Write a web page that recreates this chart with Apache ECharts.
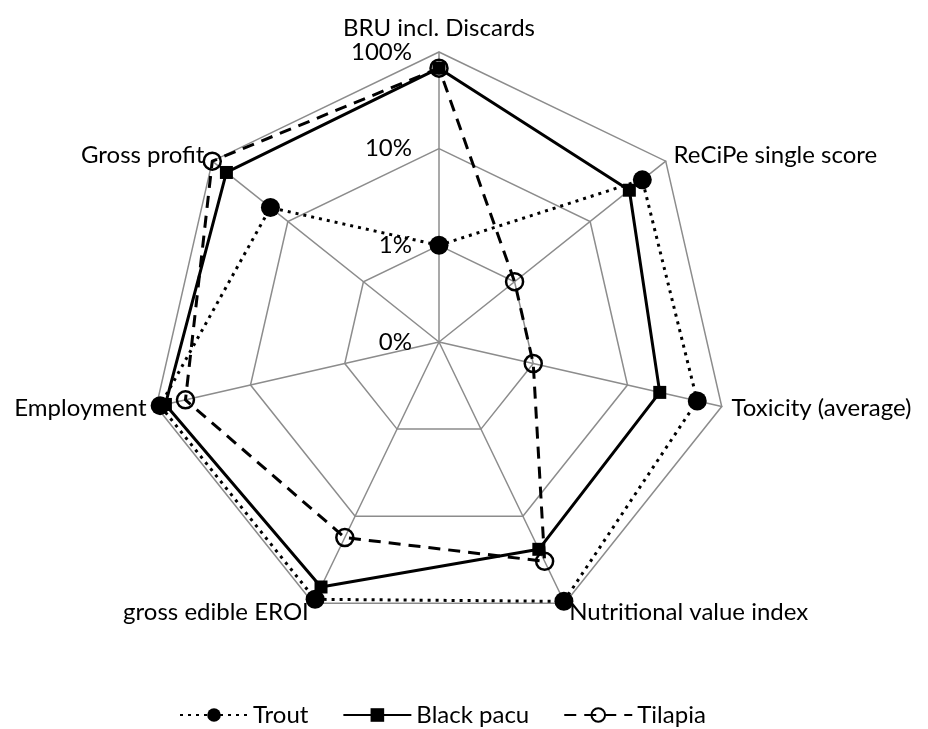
<!DOCTYPE html>
<html>
<head>
<meta charset="utf-8">
<script src="https://cdn.jsdelivr.net/npm/echarts@6/dist/echarts.min.js"></script>
<style>
  html, body { margin: 0; padding: 0; background: #fff; }
  #chart { width: 928px; height: 729px; }
</style>
</head>
<body>
<div id="chart"></div>
<script>
// axes, counter-clockwise from the top (echarts places indicators that way)
var indicators = [
  "BRU incl. Discards",
  "Gross profit",
  "Employment",
  "gross edible EROI",
  "Nutritional value index",
  "Toxicity (average)",
  "ReCiPe single score"
];
// values in percent, same order as indicators
var trout = [1, 17, 91, 90, 95, 55, 49];
var blackPacu = [68, 65, 80, 65, 24, 22, 33];
var tilapia = [68, 100, 49, 17.6, 33, 1, 1];
// log ticks: 0.1% (shown as 0%), 1%, 10%, 100%
var tickLabels = { "-1": "0%", "0": "1%", "1": "10%", "2": "100%" };

var FONT = "Lato";

function toLog(arr) {
  return arr.map(function (v) { return Math.log10(v); });
}

var chart = echarts.init(document.getElementById("chart"));

var styles = {
  Trout: { type: [3, 5], symbol: "circle", size: 19 },
  "Black pacu": { type: "solid", symbol: "rect", size: 13 },
  Tilapia: { type: [12, 8], symbol: "circle", size: 17 }
};
var names = ["Trout", "Black pacu", "Tilapia"];
var values = { Trout: trout, "Black pacu": blackPacu, Tilapia: tilapia };

function itemStyleFor(n) {
  if (n === "Tilapia") {
    return { color: "rgba(0,0,0,0)", borderColor: "#000", borderWidth: 2.5 };
  }
  return { color: "#000", borderWidth: 0 };
}

var radarData = names.map(function (n) {
  var s = styles[n];
  return {
    name: n,
    value: toLog(values[n]),
    symbol: s.symbol,
    symbolSize: s.size,
    lineStyle: { color: "#000", width: 3, type: s.type },
    itemStyle: itemStyleFor(n)
  };
});

// empty line series, only so the legend shows line + marker icons
var legendSeries = names.map(function (n) {
  var s = styles[n];
  return {
    name: n,
    type: "line",
    data: [],
    symbol: s.symbol,
    symbolSize: s.size - 2,
    lineStyle: { color: "#000", width: 3, type: s.type },
    itemStyle: itemStyleFor(n)
  };
});

var option = {
  backgroundColor: "#fff",
  animation: false,
  textStyle: { fontFamily: FONT },
  legend: {
    data: names,
    top: 698,
    left: 174,
    itemWidth: 68,
    itemHeight: 17,
    itemGap: 34,
    selectedMode: false,
    textStyle: { fontFamily: FONT, fontSize: 24, color: "#000" }
  },
  grid: { show: false, left: 0, top: 0, width: 1, height: 1 },
  xAxis: { type: "category", show: false, data: [] },
  yAxis: { type: "value", show: false },
  radar: {
    center: [439, 342],
    radius: 290,
    startAngle: 90,
    shape: "polygon",
    splitNumber: 3,
    nameGap: 10,
    axisName: { color: "#000", fontFamily: FONT, fontSize: 24 },
    splitArea: { show: false },
    splitLine: { lineStyle: { color: "#8c8c8c", width: 1.5 } },
    axisLine: { lineStyle: { color: "#8c8c8c", width: 1.5 } },
    axisTick: { show: false },
    axisLabel: { show: false },
    indicator: indicators.map(function (name, i) {
      var ind = { name: name, min: -1, max: 2 };
      if (i === 0) {
        ind.axisLabel = {
          show: true,
          color: "#000",
          fontFamily: FONT,
          fontSize: 24,
          margin: 27,
          formatter: function (v) { return tickLabels[String(Math.round(v))]; }
        };
      }
      return ind;
    })
  },
  series: [
    {
      type: "radar",
      z: 3,
      data: radarData
    }
  ].concat(legendSeries)
};

chart.setOption(option);
</script>
</body>
</html>
